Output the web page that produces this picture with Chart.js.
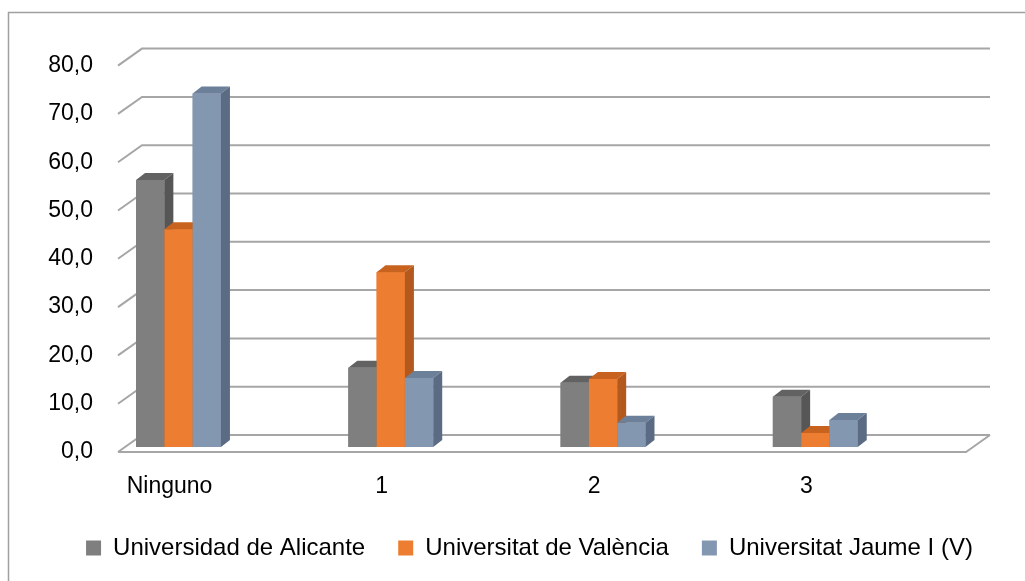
<!DOCTYPE html>
<html>
<head>
<meta charset="utf-8">
<script src="https://cdn.jsdelivr.net/npm/chart.js@4.4.1/dist/chart.umd.min.js"></script>
<style>
  html, body { margin: 0; padding: 0; background: #fff; }
  canvas { display: block; }
</style>
</head>
<body>
<canvas id="chart" width="1025" height="581"></canvas>
<script>
const categories = ['Ninguno', '1', '2', '3'];
const categoryPos = [0, 1, 2, 3];
const yTickLabels = ['0,0', '10,0', '20,0', '30,0', '40,0', '50,0', '60,0', '70,0', '80,0'];

const seriesNames = ['Universidad de Alicante', 'Universitat de València', 'Universitat Jaume I (V)'];
const alicante = [55.3, 16.4, 13.3, 10.4];
const valencia = [45.1, 36.2, 14.1, 2.9];
const jaume = [73.2, 14.3, 5.0, 5.6];

// front / top / side colours of the 3D columns
const faces = [
  { front: '#7f7f7f', top: '#626262', side: '#565656' },
  { front: '#ed7d31', top: '#c8631f', side: '#b3591d' },
  { front: '#8497b0', top: '#6d8099', side: '#5b6b83' }
];
const DX = 9, DY = -7;          // column depth
const GRID = '#a6a6a6';
const FONT = 'Liberation Sans';

const excel3d = {
  id: 'excel3d',
  beforeDraw(chart) {
    const ctx = chart.ctx;
    ctx.save();
    ctx.strokeStyle = '#a0a0a0';
    ctx.lineWidth = 1.5;
    ctx.strokeRect(8.5, 12.5, 1200, 800);
    ctx.restore();
  },
  beforeDatasetsDraw(chart) {
    const { ctx, chartArea, scales: { y } } = chart;
    const x0 = chartArea.left, x1 = x0 + 24, xr = chartArea.right - 21;
    ctx.save();
    ctx.strokeStyle = GRID;
    ctx.lineWidth = 2;
    y.ticks.forEach(t => {
      const py = y.getPixelForValue(t.value);
      ctx.beginPath();
      ctx.moveTo(x0, py + 5);
      ctx.lineTo(x1, py - 12);
      ctx.lineTo(xr, py - 12);
      ctx.stroke();
    });
    // floor front edge
    const p0 = y.getPixelForValue(0);
    ctx.beginPath();
    ctx.moveTo(x0, p0 + 5);
    ctx.lineTo(xr - 24, p0 + 5);
    ctx.lineTo(xr, p0 - 12);
    ctx.stroke();
    ctx.restore();
  },
  afterDatasetsDraw(chart) {
    const ctx = chart.ctx;
    const metas = chart.data.datasets.map((d, i) => chart.getDatasetMeta(i));
    ctx.save();
    for (let j = 0; j < categories.length; j++) {
      metas.forEach((meta, i) => {
        const bar = meta.data[j];
        if (!bar) return;
        const { x, y, base, width } = bar.getProps(['x', 'y', 'base', 'width'], true);
        const l = x - width / 2, r = x + width / 2;
        const c = faces[i];
        ctx.fillStyle = c.front;
        ctx.fillRect(l, y, width, base - y);
        ctx.fillStyle = c.top;
        ctx.beginPath();
        ctx.moveTo(l, y);
        ctx.lineTo(l + DX, y + DY);
        ctx.lineTo(r + DX, y + DY);
        ctx.lineTo(r, y);
        ctx.closePath();
        ctx.fill();
        ctx.fillStyle = c.side;
        ctx.beginPath();
        ctx.moveTo(r, y);
        ctx.lineTo(r + DX, y + DY);
        ctx.lineTo(r + DX, base + DY);
        ctx.lineTo(r, base);
        ctx.closePath();
        ctx.fill();
      });
    }
    ctx.restore();
  }
};

new Chart(document.getElementById('chart'), {
  type: 'bar',
  data: {
    labels: categoryPos,
    datasets: [
      { label: seriesNames[0], data: alicante, backgroundColor: faces[0].front, borderWidth: 0 },
      { label: seriesNames[1], data: valencia, backgroundColor: faces[1].front, borderWidth: 0 },
      { label: seriesNames[2], data: jaume, backgroundColor: faces[2].front, borderWidth: 0 }
    ]
  },
  options: {
    responsive: false,
    animation: false,
    devicePixelRatio: 1,
    barPercentage: 1,
    categoryPercentage: 0.4,
    layout: { padding: { top: 60.6, left: 48, right: 14, bottom: 11 } },
    plugins: {
      legend: {
        position: 'bottom',
        labels: {
          font: { family: FONT, size: 24 },
          color: '#000',
          boxWidth: 15,
          boxHeight: 15,
          padding: 33
        }
      },
      tooltip: { enabled: false }
    },
    scales: {
      x: {
        type: 'linear',
        min: -0.285,
        max: 3.922,
        bounds: 'data',
        offset: false,
        grid: { display: false, drawTicks: false, offset: false },
        border: { display: false },
        ticks: {
          autoSkip: false,
          maxRotation: 0,
          labelOffset: -9,
          padding: 26,
          color: '#000',
          font: { family: FONT, size: 23 },
          callback: v => categories[v] ?? ''
        },
        afterBuildTicks: s => { s.ticks = categoryPos.map(v => ({ value: v })); },
        afterFit: s => { s.height = 56; }
      },
      y: {
        min: 0,
        max: 80,
        grid: { display: false, drawTicks: false },
        border: { display: false },
        ticks: {
          stepSize: 10,
          labelOffset: 5,
          padding: 25,
          color: '#000',
          font: { family: FONT, size: 23 },
          callback: (v, i) => yTickLabels[i]
        },
        afterFit: s => { s.width = 70; }
      }
    }
  },
  plugins: [excel3d]
});
</script>
</body>
</html>
